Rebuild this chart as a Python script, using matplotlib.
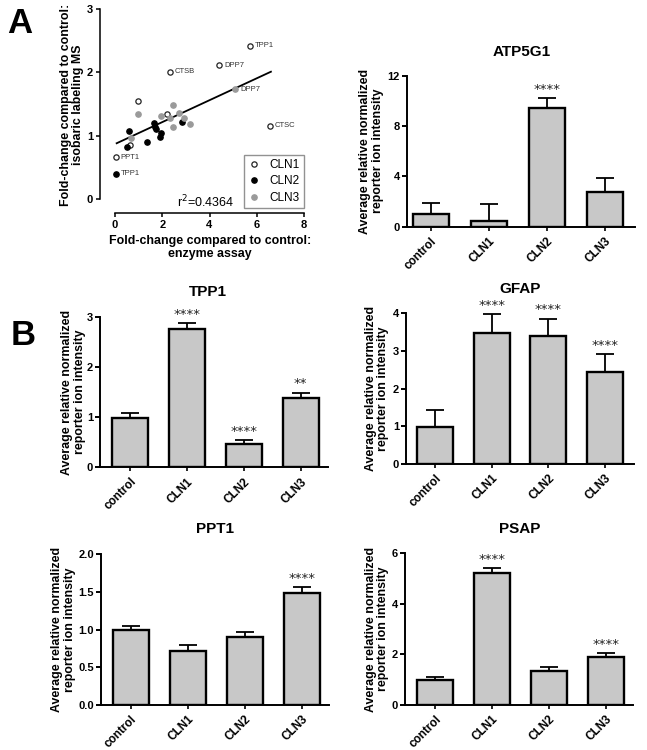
import numpy as np
import matplotlib
matplotlib.use("Agg")
import matplotlib.pyplot as plt
from matplotlib.lines import Line2D

plt.rcParams['font.family'] = ['Liberation Sans', 'DejaVu Sans']

# ---------------- data ----------------
categories = ["control", "CLN1", "CLN2", "CLN3"]

# scatter (panel A)
cln1_x = [5.71, 4.41, 2.32, 6.57, 0.96, 2.20, 0.62, 0.03]
cln1_y = [2.42, 2.11, 2.01, 1.16, 1.55, 1.35, 0.85, 0.66]
cln1_lab = ["TPP1", "DPP7", "CTSB", "CTSC", "", "", "", "PPT1"]
cln2_x = [0.03, 0.59, 0.49, 1.37, 1.67, 1.71, 1.72, 1.95, 1.91, 2.85]
cln2_y = [0.40, 1.07, 0.82, 0.90, 1.20, 1.14, 1.10, 1.04, 0.98, 1.22]
cln2_lab = ["TPP1", "", "", "", "", "", "", "", "", ""]
cln3_x = [5.08, 0.99, 0.69, 1.95, 2.46, 2.71, 2.46, 2.91, 3.18, 2.33]
cln3_y = [1.73, 1.35, 0.96, 1.31, 1.48, 1.36, 1.14, 1.28, 1.18, 1.28]
cln3_lab = ["DPP7", "", "", "", "", "", "", "", "", ""]
fit_slope = 0.173
fit_intercept = 0.868
fit_xrange = [0.07, 6.6]
r_squared = "0.4364"

# bar panels: means and upper error ends
atp5g1_mean = [1.0, 0.42, 9.4, 2.73]
atp5g1_err = [1.86, 1.78, 10.24, 3.84]
atp5g1_stars = ["", "", "****", ""]

tpp1_mean = [0.99, 2.76, 0.46, 1.39]
tpp1_err = [1.08, 2.88, 0.54, 1.49]
tpp1_stars = ["", "****", "****", "**"]

gfap_mean = [0.99, 3.49, 3.41, 2.43]
gfap_err = [1.43, 3.97, 3.86, 2.91]
gfap_stars = ["", "****", "****", "****"]

ppt1_mean = [0.99, 0.72, 0.90, 1.49]
ppt1_err = [1.05, 0.80, 0.97, 1.56]
ppt1_stars = ["", "", "", "****"]

psap_mean = [0.98, 5.22, 1.34, 1.88]
psap_err = [1.12, 5.42, 1.49, 2.07]
psap_stars = ["", "****", "", "****"]

# ---------------- layout helpers ----------------
W, H = 647, 750
fig = plt.figure(figsize=(W / 100, H / 100), dpi=100)


def rect(l, t, r, b):
    return [l / W, 1 - b / H, (r - l) / W, (b - t) / H]


def fx(x):
    return x / W


def fy(y):
    return 1 - y / H


BAR_COLOR = "#c8c8c8"
TICK_FS = 8
LABEL_FS = 8.9

# ---------------- panel A scatter ----------------
ax = fig.add_axes(rect(115, 9, 304, 199))
ax.set_xlim(0, 8)
ax.set_ylim(0, 3)
for s in ["top", "right"]:
    ax.spines[s].set_visible(False)
ax.spines["left"].set_position(("outward", 10.8))
ax.spines["bottom"].set_position(("outward", 9.9))
for s in ["left", "bottom"]:
    ax.spines[s].set_linewidth(1.1)
ax.set_xticks([0, 2, 4, 6, 8])
ax.set_yticks([0, 1, 2, 3])
ax.tick_params(axis="both", length=3, width=1.1, labelsize=TICK_FS, pad=2)
for lab in ax.get_xticklabels() + ax.get_yticklabels():
    lab.set_fontweight("bold")

fx_line = np.array(fit_xrange)
ax.plot(fx_line, fit_intercept + fit_slope * fx_line, color="black", lw=1.3, zorder=2)

ms = 3.8
ax.plot(cln1_x, cln1_y, "o", mfc="white", mec="#222222", mew=0.9, ms=ms,
        clip_on=False, zorder=3, ls="none")
ax.plot(cln2_x, cln2_y, "o", mfc="black", mec="black", ms=ms,
        clip_on=False, zorder=3, ls="none")
ax.plot(cln3_x, cln3_y, "o", mfc="#9a9a9a", mec="#9a9a9a", ms=ms,
        clip_on=False, zorder=3, ls="none")
for xs, ys, labs in [(cln1_x, cln1_y, cln1_lab), (cln2_x, cln2_y, cln2_lab),
                     (cln3_x, cln3_y, cln3_lab)]:
    for x, y, t in zip(xs, ys, labs):
        if t:
            ax.annotate(t, (x, y), xytext=(3.5, 0), textcoords="offset points",
                        ha="left", va="center", fontsize=5.5, color="#333333")

ax.text(0.33, -0.018, "r$^2$=" + r_squared, transform=ax.transAxes, fontsize=9,
        ha="left", va="center")

handles = [
    Line2D([], [], marker="o", ls="none", mfc="white", mec="#222222", mew=0.9, ms=ms),
    Line2D([], [], marker="o", ls="none", mfc="black", mec="black", ms=ms),
    Line2D([], [], marker="o", ls="none", mfc="#9a9a9a", mec="#9a9a9a", ms=ms),
]
leg = fig.legend(handles, ["CLN1", "CLN2", "CLN3"], loc="center",
                 bbox_to_anchor=(fx(274), fy(181.5)), fontsize=8.5,
                 frameon=True, fancybox=False, edgecolor="#777777",
                 handlelength=1.0, handletextpad=0.8, labelspacing=0.35,
                 borderpad=0.4, borderaxespad=0)
leg.get_frame().set_linewidth(1.0)

fig.text(fx(72), fy(104.5), "Fold-change compared to control:\nisobaric labeling MS",
         rotation=90, ha="center", va="center", fontsize=LABEL_FS,
         fontweight="bold", linespacing=1.05)
fig.text(fx(210), fy(247.5), "Fold-change compared to control:\nenzyme assay",
         ha="center", va="center", fontsize=LABEL_FS, fontweight="bold",
         linespacing=1.05)


# ---------------- bar panels ----------------
def bar_panel(box, xlim, title, title_xy, label_x, means, errs, stars,
              ylim, yticks, yticklabels):
    l, t, r, b = box
    ax = fig.add_axes(rect(l, t, r, b))
    x = np.arange(len(categories))
    means = np.array(means)
    errs = np.array(errs)
    ax.errorbar(x, means, yerr=[np.zeros_like(means), errs - means], fmt="none",
                ecolor="black", elinewidth=1.3, capsize=6.5, capthick=1.3,
                zorder=2, clip_on=False)
    ax.bar(x, means, width=0.63, color=BAR_COLOR, edgecolor="black",
           linewidth=1.7, zorder=3)
    for xi, e, s in zip(x, errs, stars):
        if s:
            ax.annotate(s, (xi, e), xytext=(0, 1.5), textcoords="offset points",
                        ha="center", va="bottom", fontsize=9.5,
                        family="DejaVu Sans", color="#222222")
    ax.set_xlim(*xlim)
    ax.set_ylim(*ylim)
    for s in ["top", "right"]:
        ax.spines[s].set_visible(False)
    for s in ["left", "bottom"]:
        ax.spines[s].set_linewidth(1.4)
    ax.set_yticks(yticks)
    ax.set_yticklabels(yticklabels)
    ax.set_xticks(x)
    ax.set_xticklabels(categories, rotation=45, ha="right", va="top",
                       rotation_mode="anchor")
    ax.tick_params(axis="y", length=3.5, width=1.4, labelsize=TICK_FS, pad=1.5)
    ax.tick_params(axis="x", length=3, width=1.2, labelsize=8.5, pad=3)
    for lab in ax.get_xticklabels() + ax.get_yticklabels():
        lab.set_fontweight("bold")
    ax.set_ylabel("Average relative normalized\nreporter ion intensity",
                  fontsize=LABEL_FS, fontweight="bold", linespacing=1.05,
                  va="center", ha="center")
    ax.yaxis.set_label_coords((label_x - l) / (r - l), 0.5)
    fig.text(fx(title_xy[0]), fy(title_xy[1]), title, ha="center", va="center",
             fontsize=11, fontweight="bold")
    return ax


bar_panel((407, 75.7, 635, 226.7), (-0.41, 3.52), "ATP5G1", (522, 52.5), 371.5,
          atp5g1_mean, atp5g1_err, atp5g1_stars, (0, 12), [0, 4, 8, 12],
          ["0", "4", "8", "12"])
bar_panel((100, 316.7, 328, 467.3), (-0.53, 3.48), "TPP1", (208, 292.5), 73.5,
          tpp1_mean, tpp1_err, tpp1_stars, (0, 3), [0, 1, 2, 3],
          ["0", "1", "2", "3"])
bar_panel((406, 313.3, 634, 464), (-0.51, 3.51), "GFAP", (520, 289), 377,
          gfap_mean, gfap_err, gfap_stars, (0, 4), [0, 1, 2, 3, 4],
          ["0", "1", "2", "3", "4"])
bar_panel((101, 554, 329, 705), (-0.52, 3.48), "PPT1", (215, 529), 63.5,
          ppt1_mean, ppt1_err, ppt1_stars, (0, 2), [0, 0.5, 1.0, 1.5, 2.0],
          ["0.0", "0.5", "1.0", "1.5", "2.0"])
bar_panel((405, 553.3, 633, 705), (-0.53, 3.48), "PSAP", (520, 529), 377,
          psap_mean, psap_err, psap_stars, (0, 6), [0, 2, 4, 6],
          ["0", "2", "4", "6"])

# panel letters
fig.text(fx(7), fy(33), "A", fontsize=25, fontweight="bold", ha="left", va="baseline")
fig.text(fx(11), fy(345), "B", fontsize=25, fontweight="bold", ha="left", va="baseline")

fig.savefig("out.png", dpi=100)
